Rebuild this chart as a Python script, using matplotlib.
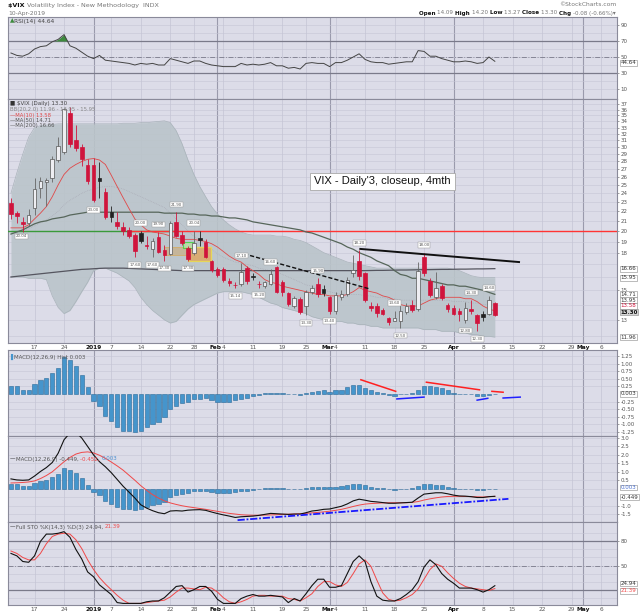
import numpy as np
import matplotlib
matplotlib.use("Agg")
import matplotlib.pyplot as plt
from matplotlib.patches import Rectangle

W, H = 640, 614

# ---- daily data, 11-Dec-2018 .. 10-Apr-2019 (83 sessions) ----
opens = [22.9, 21.8, 20.9, 20.8, 22.4, 24.6, 25.3, 25.9, 28.2, 29.3,
         35.4, 31.1, 30.0, 27.5, 27.5, 25.8, 24.2, 21.9, 20.9, 20.4,
         20.1, 19.6, 19.8, 18.7, 18.3, 19.4, 18.2, 17.9, 20.9, 19.6,
         18.4, 18.0, 19.3, 19.0, 17.3, 16.6, 16.6, 15.7, 15.4, 15.5,
         16.7, 16.1, 15.5, 15.3, 15.5, 16.8, 15.6, 14.8, 13.9, 14.4,
         13.9, 14.9, 15.5, 15.1, 14.5, 13.6, 14.5, 14.7, 16.3, 17.3,
         16.3, 13.9, 13.9, 13.65, 13.1, 12.9, 12.9, 13.5, 14.0, 13.7,
         17.6, 15.7, 14.5, 15.3, 14.0, 13.8, 13.6, 13.0, 13.7, 13.3,
         13.4, 13.4, 14.09]
highs = [23.5, 22.0, 21.4, 22.2, 25.9, 26.0, 25.9, 28.8, 31.5, 36.2,
         36.4, 33.4, 30.5, 28.3, 28.5, 27.9, 24.6, 22.6, 21.9, 20.9,
         20.4, 19.8, 20.0, 19.5, 19.3, 19.9, 18.7, 21.0, 21.9, 20.0,
         18.6, 20.04, 20.0, 19.2, 17.4, 16.8, 16.8, 15.9, 15.6, 17.1,
         16.9, 16.3, 15.7, 15.7, 16.6, 16.9, 15.8, 14.9, 14.6, 14.5,
         15.0, 15.4, 15.9, 15.4, 14.6, 14.9, 15.0, 16.0, 17.8, 18.2,
         16.4, 14.2, 14.1, 13.8, 13.2, 13.6, 14.0, 14.1, 14.3, 17.2,
         18.0, 15.9, 16.4, 15.5, 14.1, 14.0, 13.8, 14.2, 14.3, 13.4,
         13.6, 14.6, 14.20]
lows = [21.2, 20.8, 19.9, 20.5, 21.6, 23.5, 22.6, 25.4, 27.9, 29.0,
        30.1, 29.4, 27.4, 25.1, 23.0, 23.5, 21.2, 20.9, 20.2, 19.6,
        19.3, 17.6, 18.9, 18.3, 17.6, 18.0, 17.3, 17.8, 19.4, 18.7,
        17.3, 17.8, 18.6, 17.5, 16.4, 16.0, 15.6, 15.3, 15.14, 15.3,
        15.5, 15.8, 15.2, 15.2, 15.4, 14.8, 14.6, 13.9, 13.8, 13.35,
        13.3, 14.7, 14.5, 14.6, 13.4, 13.4, 14.3, 14.6, 16.0, 15.8,
        14.2, 13.6, 13.2, 13.3, 12.7, 12.9, 12.5, 13.4, 13.5, 13.6,
        16.1, 14.5, 14.4, 14.3, 13.5, 13.3, 12.9, 12.8, 13.4, 12.3,
        12.9, 13.3, 13.27]
closes = [21.76, 21.46, 20.65, 21.63, 24.52, 25.50, 25.58, 28.38, 30.11, 36.07,
          30.41, 29.96, 28.34, 25.42, 23.22, 25.45, 21.38, 21.40, 20.47, 19.98,
          19.50, 18.19, 19.07, 18.60, 19.04, 18.06, 17.80, 20.80, 19.52, 18.89,
          17.42, 18.87, 19.13, 17.66, 16.57, 16.14, 15.73, 15.57, 15.38, 16.37,
          15.72, 15.97, 15.43, 15.65, 16.22, 14.91, 14.88, 14.02, 14.46, 13.51,
          14.85, 15.17, 14.70, 14.78, 13.57, 14.63, 14.74, 15.74, 16.59, 16.05,
          14.33, 13.77, 13.41, 13.40, 12.88, 13.10, 13.56, 13.91, 13.63, 16.48,
          16.33, 14.68, 15.15, 14.43, 13.71, 13.40, 13.36, 13.74, 13.58, 12.82,
          13.18, 14.28, 13.30]

ma10 = [20.3, 20.3, 20.3, 20.6, 21.2, 21.8, 22.5, 23.6, 25.0, 26.3,
        27.1, 27.6, 28.0, 28.3, 28.4, 28.2, 27.6, 26.2, 24.8, 23.5,
        22.3, 21.2, 20.6, 20.1, 19.9, 19.8, 19.7, 19.5, 19.3, 19.2,
        19.2, 19.2, 19.1, 19.0, 18.8, 18.5, 18.1, 17.7, 17.4, 17.2,
        16.8, 16.5, 16.2, 15.8, 15.6, 15.5, 15.3, 15.2, 15.1, 15.0,
        14.9, 14.8, 14.7, 14.7, 14.6, 14.6, 14.6, 14.7, 14.9, 15.2,
        15.0, 14.9, 14.8, 14.6, 14.5, 14.3, 14.0, 13.9, 13.9, 13.9,
        14.1, 14.3, 14.4, 14.5, 14.5, 14.5, 14.5, 14.4, 14.4, 14.2,
        13.9, 13.7, 13.58]
ma50 = [19.7, 19.9, 20.1, 20.4, 20.7, 20.9, 21.0, 21.2, 21.3, 21.4,
        21.6, 21.7, 21.8, 21.9, 21.9, 21.9, 21.9, 21.9, 21.9, 21.9,
        21.9, 21.9, 21.9, 21.9, 21.9, 21.9, 21.8, 21.8, 21.8, 21.8,
        21.7, 21.7, 21.6, 21.6, 21.5, 21.5, 21.4, 21.3, 21.3, 21.2,
        21.1, 20.9, 20.8, 20.7, 20.6, 20.5, 20.4, 20.3, 20.2, 20.1,
        19.9, 19.8, 19.6, 19.4, 19.2, 19.0, 18.8, 18.5, 18.3, 18.0,
        17.8, 17.6, 17.3, 17.1, 16.9, 16.5, 16.2, 16.1, 15.9, 15.9,
        15.8, 15.7, 15.6, 15.5, 15.4, 15.4, 15.3, 15.3, 15.2, 15.1,
        15.0, 14.85, 14.71]
ma200 = [16.0, 16.05, 16.1, 16.15, 16.2, 16.25, 16.3, 16.35, 16.4, 16.45,
         16.5, 16.55, 16.6, 16.62, 16.65, 16.68, 16.7, 16.7, 16.7, 16.7,
         16.68, 16.66, 16.64, 16.62, 16.6, 16.58, 16.56, 16.54, 16.52, 16.5,
         16.5, 16.5, 16.5, 16.5, 16.5, 16.5, 16.5, 16.5, 16.5, 16.5,
         16.5, 16.5, 16.5, 16.5, 16.5, 16.5, 16.5, 16.5, 16.5, 16.5,
         16.5, 16.5, 16.5, 16.5, 16.5, 16.5, 16.5, 16.5, 16.5, 16.5,
         16.5, 16.51, 16.52, 16.52, 16.53, 16.54, 16.55, 16.55, 16.56, 16.57,
         16.58, 16.58, 16.59, 16.6, 16.6, 16.61, 16.62, 16.62, 16.63, 16.64,
         16.64, 16.65, 16.66]
bb_upper = [24.0, 26.5, 29.0, 31.5, 33.0, 33.3, 33.4, 33.5, 33.6, 33.6,
            33.6, 33.6, 33.6, 33.6, 33.6, 33.6, 33.6, 33.6, 33.6, 33.7,
            33.7, 33.7, 33.8, 33.8, 33.9, 34.0, 34.1, 33.8, 32.5, 30.5,
            28.2, 26.3, 24.8, 23.6, 22.5, 21.7, 21.1, 20.6, 20.2, 19.9,
            19.7, 19.6, 19.6, 19.6, 19.6, 19.5, 19.5, 19.4, 19.2, 19.1,
            18.9, 18.6, 18.3, 18.0, 17.8, 17.6, 17.4, 17.2, 17.1, 17.0,
            16.9, 16.8, 16.7, 16.7, 16.7, 16.7, 16.7, 16.7, 16.7, 16.7,
            16.7, 16.7, 16.7, 16.7, 16.7, 16.6, 16.5, 16.3, 16.1, 16.0,
            15.95, 15.95, 15.95]
bb_mid = [19.8, 20.0, 20.1, 20.2, 20.5, 20.8, 21.1, 21.5, 22.0, 22.7,
          23.2, 23.6, 24.0, 24.3, 24.5, 24.7, 24.8, 24.8, 24.7, 24.5,
          24.2, 23.9, 23.6, 23.3, 23.0, 22.7, 22.4, 21.8, 21.2, 20.6,
          20.0, 19.5, 19.1, 18.7, 18.3, 17.9, 17.6, 17.4, 17.2, 17.1,
          17.0, 16.9, 16.7, 16.6, 16.5, 16.4, 16.2, 16.0, 15.8, 15.6,
          15.4, 15.3, 15.1, 15.0, 14.9, 14.8, 14.7, 14.7, 14.7, 14.7,
          14.6, 14.6, 14.5, 14.5, 14.4, 14.4, 14.3, 14.3, 14.3, 14.3,
          14.3, 14.3, 14.3, 14.3, 14.3, 14.2, 14.2, 14.2, 14.1, 14.1,
          14.0, 14.0, 13.95]
bb_lower = [16.0, 16.0, 16.0, 15.9, 15.9, 15.9, 15.8, 14.6, 13.8, 13.4,
            13.6, 14.2, 14.9, 15.6, 16.5, 16.7, 16.7, 16.5, 16.3, 16.0,
            15.7, 15.2, 14.5, 14.0, 13.6, 13.3, 13.0, 12.8, 12.9, 13.3,
            13.7, 14.0, 14.2, 14.4, 14.6, 14.8, 14.9, 14.9, 14.9, 14.9,
            14.8, 14.7, 14.5, 14.3, 14.1, 14.0, 13.8, 13.7, 13.6, 13.5,
            13.4, 13.2, 13.1, 13.0, 13.0, 12.9, 12.9, 12.8, 12.8, 12.7,
            12.7, 12.6, 12.6, 12.5, 12.5, 12.5, 12.5, 12.5, 12.5, 12.5,
            12.4, 12.4, 12.4, 12.3, 12.3, 12.3, 12.2, 12.2, 12.1, 12.1,
            12.0, 12.0, 11.96]

rsi = [55, 52, 51, 54, 60, 63, 64, 69, 72, 78,
       64, 61, 56, 51, 48, 52, 46, 45, 44, 43,
       42, 40, 42, 41, 42, 40, 40, 48, 46, 44,
       42, 45, 45, 42, 40, 39, 38, 38, 38, 42,
       40, 41, 40, 41, 43, 39, 39, 36, 37, 35,
       42, 43, 42, 42, 38, 43, 43, 46, 50, 54,
       47, 44, 43, 43, 41, 42, 43, 44, 44, 58,
       57, 51, 51, 48, 46, 44, 44, 45, 44, 42,
       43, 50, 44.64]

macd_line = [0.58, 0.52, 0.50, 0.52, 0.75, 1.02, 1.25, 1.55, 2.10, 2.90,
             3.30, 3.35, 3.00, 2.50, 2.00, 1.60, 1.30, 0.95, 0.55, 0.15,
             -0.20, -0.55, -0.95, -1.15, -1.30, -1.42, -1.48, -1.32, -1.30, -1.32,
             -1.27, -1.25, -1.24, -1.28, -1.38, -1.47, -1.55, -1.62, -1.70, -1.66,
             -1.64, -1.62, -1.58, -1.52, -1.46, -1.48, -1.50, -1.52, -1.50, -1.50,
             -1.42, -1.32, -1.28, -1.22, -1.20, -1.12, -1.04, -0.90, -0.72, -0.62,
             -0.68, -0.75, -0.78, -0.82, -0.86, -0.86, -0.84, -0.82, -0.80, -0.55,
             -0.32, -0.28, -0.24, -0.24, -0.30, -0.38, -0.43, -0.44, -0.47, -0.52,
             -0.52, -0.47, -0.449]
macd_signal = [0.34, 0.35, 0.37, 0.40, 0.46, 0.60, 0.78, 1.00, 1.30, 1.60,
               1.85, 2.05, 2.15, 2.18, 2.12, 1.98, 1.80, 1.58, 1.35, 1.10,
               0.80, 0.50, 0.18, -0.10, -0.35, -0.55, -0.72, -0.84, -0.93, -1.01,
               -1.07, -1.12, -1.17, -1.22, -1.28, -1.34, -1.40, -1.46, -1.50, -1.54,
               -1.56, -1.57, -1.57, -1.56, -1.55, -1.54, -1.52, -1.51, -1.50, -1.48,
               -1.46, -1.43, -1.40, -1.37, -1.33, -1.28, -1.22, -1.14, -1.05, -0.97,
               -0.91, -0.88, -0.86, -0.84, -0.83, -0.83, -0.83, -0.83, -0.81, -0.76,
               -0.67, -0.60, -0.54, -0.49, -0.46, -0.45, -0.45, -0.46, -0.47, -0.48,
               -0.49, -0.47, -0.452]
macd_hist = [0.28, 0.25, 0.15, 0.15, 0.33, 0.47, 0.53, 0.70, 0.86, 1.22,
             1.12, 0.93, 0.62, 0.22, -0.22, -0.38, -0.72, -0.90, -1.10, -1.20,
             -1.22, -1.25, -1.20, -1.10, -0.98, -0.93, -0.77, -0.50, -0.38, -0.30,
             -0.25, -0.15, -0.15, -0.13, -0.20, -0.25, -0.25, -0.25, -0.20, -0.15,
             -0.12, -0.05, -0.03, 0.02, 0.05, 0.04, 0.02, 0.00, 0.00, -0.03,
             0.03, 0.08, 0.10, 0.13, 0.08, 0.12, 0.15, 0.22, 0.30, 0.30,
             0.20, 0.12, 0.06, 0.02, -0.03, -0.05, 0.00, 0.01, 0.03, 0.15,
             0.27, 0.25, 0.24, 0.20, 0.12, 0.05, 0.00, -0.01, -0.01, -0.05,
             -0.08, -0.03, 0.003]

sto_k = [65, 62, 55, 54, 62, 80, 89, 89, 90, 92,
         85, 70, 58, 42, 36, 26, 20, 14, 4, 3,
         3, 3, 3, 5, 6, 6, 10, 17, 24, 25,
         17, 20, 24, 24, 18, 8, 3, 3, 3, 9,
         12, 14, 12, 12, 13, 12, 11, 4, 9, 6,
         15, 25, 33, 33, 23, 23, 25, 40, 55, 62,
         55, 30, 12, 7, 6, 6, 9, 14, 20, 30,
         48, 57, 51, 40, 33, 28, 22, 22, 22, 20,
         17, 20, 24.94]
sto_d = [68, 65, 60, 57, 57, 65, 77, 86, 89, 90,
         89, 82, 71, 57, 45, 35, 27, 20, 13, 7,
         3, 3, 3, 4, 5, 6, 7, 11, 17, 22,
         22, 21, 20, 23, 22, 17, 10, 5, 3, 5,
         8, 12, 13, 13, 12, 12, 12, 9, 8, 6,
         10, 15, 24, 30, 30, 26, 24, 29, 40, 52,
         57, 49, 32, 16, 8, 6, 7, 10, 14, 21,
         33, 45, 52, 49, 41, 34, 28, 24, 22, 21,
         20, 19, 21.39]

# date axis: session index (future slots continue the count)
tick_idx = [4, 9, 14, 17, 22, 27, 31, 35, 36, 41, 46, 50, 54, 55, 60, 65, 70, 75,
            80, 85, 90, 95, 97, 100]
tick_lbl = ["17", "24", "2019", "7", "14", "22", "28", "Feb", "4", "11", "19", "25",
            "Mar", "4", "11", "18", "25", "Apr", "8", "15", "22", "29", "May", "6"]
month_idx = [14, 35, 54, 75, 97]

# swing-point price labels: session index and which end of the bar
label_idx = [14, 28, 22, 25, 31, 21, 24, 26, 30, 39, 44, 38, 42, 50, 52, 54,
             59, 70, 65, 66, 78, 77, 79, 81]
label_side = ["l", "h", "h", "h", "h", "l", "l", "l", "l", "h", "h", "l", "l", "l", "h", "l",
              "h", "h", "h", "l", "h", "l", "l", "h"]

# ---- styling ----
BG = "#dcdce8"
GRID = "#c5c5d5"
MONTH = "#9a9aac"
RED = "#d0143c"
XMIN, XMAX = -0.5, 102.7
L, R = 8, 617

fig = plt.figure(figsize=(6.4, 6.14), dpi=100)
fig.patch.set_facecolor("white")
x = np.arange(len(closes))
renderer = fig.canvas.get_renderer()


def panel(top, bottom):
    ax = fig.add_axes([L / W, 1 - bottom / H, (R - L) / W, (bottom - top) / H])
    ax.set_facecolor(BG)
    ax.set_xlim(XMIN, XMAX)
    for s in ax.spines.values():
        s.set_color("#8a8a9a")
        s.set_linewidth(0.8)
    ax.set_xticks([])
    for t in tick_idx:
        if t in month_idx:
            ax.axvline(t, color=MONTH, lw=0.8, zorder=0)
        else:
            ax.axvline(t, color=GRID, lw=0.5, zorder=0)
    return ax


def right_ticks(ax, vals, labels):
    ax.yaxis.tick_right()
    ax.set_yticks(vals)
    ax.set_yticklabels(labels)
    ax.minorticks_off()
    ax.tick_params(axis="y", labelsize=4, colors="#555555", length=1.5, width=0.4, pad=1)


def date_labels(ax):
    # month name and the following weekly label sit side by side ("Feb4")
    for t, s in zip(tick_idx, tick_lbl):
        ha, xt = "center", t
        if t in (35, 54):
            ha, xt = "right", t + 0.75
        elif t in (36, 55):
            ha, xt = "left", t - 0.25
        month = t in month_idx
        ax.annotate(s, xy=(xt, 0), xycoords=("data", "axes fraction"), xytext=(0, -1.2),
                    textcoords="offset points", ha=ha, va="top", fontsize=4.2,
                    fontweight="bold" if month else "normal",
                    color="#111111" if month else "#555555", annotation_clip=False)


def value_box(ax, y, text, color="#333333", fc="white", bold=False, dy=0.0):
    ax.annotate(text, xy=(1.0, y), xycoords=("axes fraction", "data"),
                xytext=(2.5, dy), textcoords="offset points", fontsize=4, color=color,
                va="center", ha="left", fontweight="bold" if bold else "normal",
                bbox=dict(boxstyle="square,pad=0.08", fc=fc, ec="#888888", lw=0.4),
                annotation_clip=False, zorder=10)


def text_run(x0, y0, pieces, size, right=False):
    texts = []
    for s, color, weight in pieces:
        texts.append(fig.text(0, 1 - y0 / H, s, fontsize=size, color=color,
                              fontweight=weight, va="center", ha="left"))
    widths = [t.get_window_extent(renderer=renderer).width for t in texts]
    xpos = x0 - sum(widths) if right else x0
    for t, w in zip(texts, widths):
        t.set_x(xpos / W)
        xpos += w


# ---- header ----
text_run(8, 5, [("$VIX ", "#111111", "bold"),
                ("Volatility Index - New Methodology  INDX", "#777777", "normal")], 4.6)
fig.text(8 / W, 1 - 13 / H, "10-Apr-2019", fontsize=4.3, color="#777777", va="center")
fig.text(616 / W, 1 - 5 / H, "\u00a9StockCharts.com", fontsize=4.3, color="#777777",
         va="center", ha="right")
text_run(616, 13, [("Open ", "#111111", "bold"), ("14.09 ", "#777777", "normal"),
                   ("High ", "#111111", "bold"), ("14.20 ", "#777777", "normal"),
                   ("Low ", "#111111", "bold"), ("13.27 ", "#777777", "normal"),
                   ("Close ", "#111111", "bold"), ("13.30 ", "#777777", "normal"),
                   ("Chg ", "#111111", "bold"), ("-0.08 (-0.66%)\u25be", "#777777", "normal")],
         4.1, right=True)

# ---- RSI ----
ax1 = panel(17, 99)
ax1.set_ylim(-2.5, 100)
for v in range(10, 100, 10):
    ax1.axhline(v, color=GRID, lw=0.4, zorder=0)
ax1.axhline(70, color="#7a7a8a", lw=0.9, zorder=1)
ax1.axhline(30, color="#7a7a8a", lw=0.9, zorder=1)
ax1.axhline(50, color="#7a7a8a", lw=0.6, ls=(0, (6, 2, 1, 2)), zorder=1)
rr = np.array(rsi, dtype=float)
ax1.fill_between(x, rr, 70, where=rr > 70, interpolate=True, color="#3d8a3d", lw=0, zorder=2)
ax1.plot(x, rr, color="#444444", lw=0.7, zorder=3)
right_ticks(ax1, [10, 30, 50, 70, 90], ["10", "30", "50", "70", "90"])
value_box(ax1, 44.64, "44.64", dy=-1.0)
text_run(10, 21, [("\u25b2", "#3d8a3d", "normal"), ("RSI(14) 44.64", "#444444", "normal")], 4.2)

# ---- price panel ----
ax2 = panel(99, 343)
ax2.set_yscale("log")
ax2.set_ylim(11.62, 37.9)
for v in range(12, 38):
    ax2.axhline(v, color=GRID, lw=0.4, zorder=0)
main_ticks = [13, 15] + list(range(18, 38))
right_ticks(ax2, main_ticks, [str(v) for v in main_ticks])

ax2.fill_between(x, bb_lower, bb_upper, color="#bac4ca", alpha=0.9, lw=0, zorder=1)
ax2.plot(x, bb_upper, color="#a9b3ba", lw=0.5, zorder=2)
ax2.plot(x, bb_lower, color="#a9b3ba", lw=0.5, zorder=2)
ax2.plot(x, bb_mid, color="#a8a8b4", lw=0.5, ls=(0, (1, 1.5)), zorder=2)

# user-drawn lines and highlights
ax2.plot([XMIN, 27.8], [20.0, 20.0], color="#3a9a3a", lw=1.0, zorder=3)
ax2.plot([20.5, XMAX], [20.0, 20.0], color="#ff3434", lw=1.0, zorder=3)
ax2.add_patch(Rectangle((25.9, 17.8), 4.1, 0.7, fc="#c9b08a", ec="#d8a850", lw=0.6, alpha=0.75, zorder=3))
ax2.add_patch(Rectangle((30.0, 17.3), 3.9, 1.2, fc="#e3a456", ec="#f0e040", lw=0.9, alpha=0.75, zorder=3))
ax2.add_patch(Rectangle((29.2, 18.45), 1.6, 0.5, fc="#b8e0a0", ec="#3ad03a", lw=0.8, alpha=0.8, zorder=3))
ax2.plot([59.2, 86.1], [18.33, 17.2], color="#111111", lw=1.4, zorder=6)
ax2.plot([39.5, 60.8], [17.9, 15.1], color="#111111", lw=1.0, ls=(0, (3, 1.5)), zorder=6)

ax2.plot(x, ma200, color="#55555f", lw=0.9, zorder=4)
ax2.plot(x, ma50, color="#56665a", lw=0.9, zorder=4)
ax2.plot(x, ma10, color="#e04848", lw=0.6, zorder=4)

# candlesticks
for i in x:
    o, h, lo, c = opens[i], highs[i], lows[i], closes[i]
    prev = closes[i - 1] if i > 0 else o
    col = RED if c < prev else "#222222"
    ax2.vlines(i, lo, h, color="#666666" if c >= o else col, lw=0.6, zorder=5)
    bottom, top = min(o, c), max(o, c)
    if c > o:
        ax2.add_patch(Rectangle((i - 0.3, bottom), 0.6, top - bottom, fc="#eeeef2",
                                ec="#555555", lw=0.5, zorder=5))
    else:
        ax2.add_patch(Rectangle((i - 0.3, bottom), 0.6, top - bottom, fc=col,
                                ec=col, lw=0.5, zorder=5))

for i, side in zip(label_idx, label_side):
    v = highs[i] if side == "h" else lows[i]
    ax2.annotate(f"{v:.2f}", xy=(i, v), xytext=(0, 5.5 if side == "h" else -5.5),
                 textcoords="offset points", ha="center", va="center", fontsize=2.9,
                 color="#555555", zorder=7,
                 bbox=dict(boxstyle="square,pad=0.2", fc="white", ec="#999999", lw=0.35))
ax2.annotate("20.04", xy=(1.8, 20.0), xytext=(0, -4), textcoords="offset points",
             ha="center", va="center", fontsize=2.9, color="#555555", zorder=7,
             bbox=dict(boxstyle="square,pad=0.2", fc="white", ec="#999999", lw=0.35))

value_box(ax2, 16.66, "16.66")
value_box(ax2, 15.95, "15.95")
value_box(ax2, 14.71, "14.71")
value_box(ax2, 13.95, "13.95", dy=3.7)
value_box(ax2, 13.58, "13.58", color=RED, dy=3.5)
value_box(ax2, 13.30, "13.30", color="#111111", fc="#d4d4d4", bold=True, dy=2.0)
value_box(ax2, 11.96, "11.96")
date_labels(ax2)

fig.text(314 / W, 1 - 181.5 / H, "VIX - Daily'3, closeup, 4mth", fontsize=8,
         family="Liberation Sans", color="#111111", va="center", ha="left",
         bbox=dict(boxstyle="square,pad=0.35", fc="white", ec="#a8a8a8", lw=0.6))

text_run(10, 103, [("\u25a0 ", "#333333", "normal"), ("$VIX (Daily) 13.30", "#444444", "normal")], 4.0)
fig.text(10 / W, 1 - 109 / H, "BB(20,2.0) 11.96 - 13.95 - 15.95", fontsize=3.8, color="#888888", va="center")
fig.text(10 / W, 1 - 115 / H, "\u2014MA(10) 13.58", fontsize=3.8, color="#e04848", va="center")
fig.text(10 / W, 1 - 120.5 / H, "\u2014MA(50) 14.71", fontsize=3.8, color="#555555", va="center")
fig.text(10 / W, 1 - 126 / H, "\u2014MA(200) 16.66", fontsize=3.8, color="#555555", va="center")

# ---- MACD histogram ----
ax3 = panel(350, 436)
ax3.set_ylim(-1.38, 1.45)
hist_ticks = [1.25, 1.0, 0.75, 0.5, 0.25, -0.25, -0.5, -0.75, -1.0, -1.25]
for v in hist_ticks:
    ax3.axhline(v, color=GRID, lw=0.4, zorder=0)
ax3.bar(x, macd_hist, width=0.72, color="#4595cc", edgecolor="#2b6a99", lw=0.4, zorder=3)
for xs, ys in [([59.3, 65.2], [0.47, 0.09]), ([70.4, 79.4], [0.39, 0.14]), ([81.5, 83.4], [0.09, 0.06])]:
    ax3.plot(xs, ys, color="#ff2020", lw=1.1, zorder=4)
for xs, ys in [([65.4, 70.0], [-0.16, -0.10]), ([79.0, 80.8], [-0.20, -0.14]), ([83.4, 86.3], [-0.13, -0.10])]:
    ax3.plot(xs, ys, color="#2020ff", lw=1.1, zorder=4)
right_ticks(ax3, hist_ticks, [f"{v:.2f}" for v in hist_ticks])
value_box(ax3, 0.003, "0.003")
text_run(10, 357, [("\u258c", "#4595cc", "normal"), ("MACD(12,26,9) Hist 0.003", "#555555", "normal")], 4.0)

# ---- MACD lines ----
ax4 = panel(436, 522)
ax4.set_ylim(-1.97, 3.12)
macd_ticks = [3.0, 2.5, 2.0, 1.5, 1.0, 0.5, -1.0, -1.5]
for v in macd_ticks + [0.0, -0.5]:
    ax4.axhline(v, color=GRID, lw=0.4, zorder=0)
ax4.bar(x, macd_hist, width=0.72, color="#4595cc", edgecolor="#2b6a99", lw=0.4, zorder=2)
ax4.plot(x, macd_signal, color="#f04848", lw=0.7, zorder=3)
ax4.plot(x, macd_line, color="#111111", lw=0.8, zorder=4)
ax4.plot([38.4, 84.3], [-1.86, -0.6], color="#1a1aff", lw=1.3, ls=(0, (4, 1, 1, 1)), zorder=5)
right_ticks(ax4, macd_ticks, [f"{v:.1f}" for v in macd_ticks])
value_box(ax4, 0.003, "0.003", color="#4a6fd0", dy=0.8)
value_box(ax4, -0.449, "-0.449", dy=-0.8)
text_run(10, 459, [("\u2014", "#111111", "normal"), ("MACD(12,26,9) -0.449, ", "#555555", "normal"),
                   ("-0.452, ", "#f04848", "normal"), ("0.003", "#4a8fd0", "normal")], 4.0)

# ---- Full stochastics ----
ax5 = panel(522, 605)
ax5.set_ylim(1, 104)
for v in range(10, 100, 10):
    ax5.axhline(v, color=GRID, lw=0.4, zorder=0)
ax5.axhline(80, color="#7a7a8a", lw=0.9, zorder=1)
ax5.axhline(20, color="#7a7a8a", lw=0.9, zorder=1)
ax5.axhline(50, color="#7a7a8a", lw=0.6, ls=(0, (6, 2, 1, 2)), zorder=1)
ax5.plot(x, sto_d, color="#f04848", lw=0.7, zorder=3)
ax5.plot(x, sto_k, color="#111111", lw=0.8, zorder=4)
right_ticks(ax5, [80, 50], ["80", "50"])
value_box(ax5, 24.94, "24.94", dy=1.6)
value_box(ax5, 21.39, "21.39", color="#f04848", dy=-1.6)
date_labels(ax5)
text_run(10, 527, [("\u2014", "#111111", "normal"), ("Full STO %K(14,3) %D(3) 24.94, ", "#555555", "normal"),
                   ("21.39", "#f04848", "normal")], 4.0)

fig.savefig("out.png", dpi=100, facecolor="white")
